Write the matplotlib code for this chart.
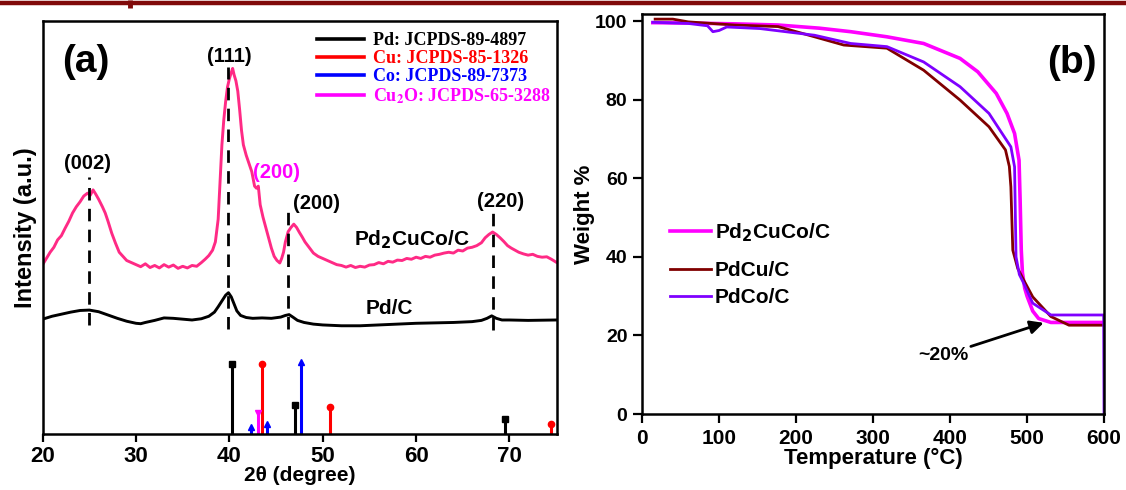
import matplotlib
matplotlib.use("Agg")
import matplotlib.pyplot as plt
from matplotlib.font_manager import FontProperties
from matplotlib.lines import Line2D

# ---------------- XRD data (2theta in degrees, intensity in a.u.) ----------------
pdcuco_2theta = [20.0, 20.4, 20.8, 21.2, 21.6, 22.0, 22.4, 22.8, 23.2, 23.6, 24.0, 24.4, 24.8, 25.1,
                 25.4, 25.7, 26.0, 26.4, 26.7, 27.0, 27.4, 27.8, 28.2, 28.6, 29.0, 29.5, 30.0, 30.5,
                 31.0, 31.5, 32.0, 32.5, 33.0, 33.5, 34.0, 34.5, 35.0, 35.5, 36.0, 36.5, 37.0, 37.4,
                 37.8, 38.2, 38.5, 38.8, 39.0, 39.2, 39.4, 39.6, 39.8, 40.0, 40.2, 40.35, 40.5, 40.7,
                 40.9, 41.1, 41.3, 41.5, 41.8, 42.1, 42.4, 42.7, 42.9, 43.1, 43.3, 43.6, 43.9, 44.2,
                 44.5, 44.8, 45.1, 45.4, 45.6, 45.8, 46.0, 46.3, 46.6, 46.9, 47.2, 47.5, 47.8, 48.1,
                 48.5, 49.0, 49.5, 50.0, 50.5, 51.0, 51.5, 52.0, 52.5, 53.0, 53.5, 54.0, 54.5, 55.0,
                 55.5, 56.0, 56.5, 57.0, 57.5, 58.0, 58.5, 59.0, 59.5, 60.0, 60.5, 61.0, 61.5, 62.0,
                 62.5, 63.0, 63.5, 64.0, 64.5, 65.0, 65.5, 66.0, 66.5, 67.0, 67.4, 67.8, 68.2, 68.6,
                 69.0, 69.4, 69.8, 70.2, 70.6, 71.0, 71.5, 72.0, 72.5, 73.0, 73.5, 74.0, 74.5, 75.0]
pdcuco_int = [41.0, 42.5, 44.0, 45.2, 47.0, 48.0, 49.8, 51.5, 53.5, 55.0, 56.2, 57.6, 58.3, 57.8,
              59.1, 58.0, 56.8, 55.0, 53.5, 51.5, 48.6, 46.2, 44.0, 43.0, 42.0, 41.5, 41.0, 40.5,
              41.2, 40.3, 40.8, 40.2, 41.0, 40.4, 40.9, 40.1, 40.6, 40.2, 40.8, 40.6, 41.5, 42.3,
              43.2, 44.5, 46.5, 52.0, 61.0, 70.0, 76.0, 80.5, 84.0, 86.0, 87.5, 88.5, 87.0, 85.5,
              83.0, 78.5, 73.5, 70.0, 67.5, 65.5, 63.5, 60.0, 59.5, 60.0, 55.5, 52.5, 50.0, 47.5,
              45.0, 43.0, 42.0, 41.4, 42.5, 44.0, 46.5, 49.0, 50.0, 50.8, 50.0, 48.8, 47.7, 46.5,
              45.3, 43.8, 43.0, 42.5, 42.0, 41.5, 41.0, 40.8, 40.4, 40.8, 40.3, 40.6, 40.4, 40.9,
              41.0, 41.5, 41.2, 41.8, 41.6, 42.1, 42.0, 42.5, 42.3, 42.8, 42.5, 43.0, 42.8, 43.3,
              43.5, 43.8, 44.0, 43.8, 44.5, 44.3, 45.0, 45.2, 45.6, 46.3, 47.5, 48.3, 48.9, 48.3,
              47.5, 46.6, 45.6, 45.0, 44.5, 44.0, 43.6, 43.3, 43.5, 43.0, 42.8, 42.9, 42.3, 41.6]

pdc_2theta = [20.0, 21.0, 22.0, 23.0, 24.0, 25.0, 26.0, 27.0, 28.0, 29.0, 30.0, 30.5, 31.0, 32.0,
              33.0, 34.0, 35.0, 36.0, 37.0, 37.8, 38.4, 38.8, 39.2, 39.6, 39.9, 40.2, 40.5, 40.8,
              41.2, 41.8, 42.5, 43.5, 44.5, 45.5, 46.0, 46.4, 46.8, 47.3, 48.0, 49.0, 50.0, 52.0,
              54.0, 56.0, 58.0, 60.0, 62.0, 64.0, 66.0, 67.0, 67.6, 68.1, 68.6, 69.2, 70.0, 72.0, 75.0]
pdc_int = [27.8, 28.5, 29.0, 29.5, 29.9, 30.0, 29.6, 28.8, 28.0, 27.3, 26.8, 26.7, 27.0, 27.5,
           28.1, 28.0, 27.8, 27.6, 27.9, 28.5, 29.5, 30.8, 32.2, 33.6, 34.2, 33.2, 31.5, 29.8,
           28.7, 28.2, 28.0, 28.1, 28.0, 28.3, 28.7, 28.9, 28.3, 27.5, 27.0, 26.6, 26.4, 26.2,
           26.2, 26.4, 26.6, 26.8, 26.9, 27.0, 27.2, 27.5, 28.0, 28.6, 28.0, 27.6, 27.6, 27.5, 27.6]

# Reference patterns (peak position, relative intensity)
pd_ref_pos = [40.3, 47.07, 69.55]
pd_ref_int = [17.0, 7.0, 3.6]
cu_ref_pos = [43.5, 50.76, 74.5]
cu_ref_int = [17.0, 6.6, 2.4]
co_ref_pos = [42.3, 44.0, 47.7]
co_ref_int = [1.8, 2.5, 17.5]
cu2o_ref_pos = [43.05]
cu2o_ref_int = [5.0]

# Guide lines marking the Pd reflections (position, top, bottom)
guide_pos = [25.0, 39.9, 46.3, 68.2]
guide_top = [62.2, 88.9, 54.7, 53.8]
guide_bottom = [26.5, 25.5, 25.5, 25.2]

# ---------------- TGA data (temperature in C, weight %) ----------------
pdcuco_T = [14, 60, 120, 176.6, 230, 271, 318, 365.7, 413, 436, 460, 474, 483.8, 489.6, 491,
            492.5, 494, 497, 500, 507.4, 515, 531, 560, 600]
pdcuco_W = [99.6, 99.5, 99.3, 99.0, 98.2, 97.3, 96.0, 94.3, 90.5, 87.1, 81.6, 76.5, 71.4, 64.6,
            54.5, 41.7, 36.0, 32.0, 30.0, 26.2, 24.3, 23.3, 23.3, 23.3]

pdcu_T = [17, 40, 60, 120, 176.6, 224, 262, 318, 365.7, 413, 450.6, 472, 477, 479, 481.5, 488,
          495.6, 507.4, 531, 554.5, 580, 600]
pdcu_W = [100.5, 100.5, 99.8, 99.0, 98.6, 96.0, 93.9, 93.1, 87.5, 79.9, 73.1, 67.2, 63.0, 57.8,
          41.7, 37.0, 34.1, 29.8, 24.8, 22.6, 22.6, 22.6]

pdco_T = [14, 60, 85, 92, 100, 110, 153, 224, 271, 318, 365.7, 413, 450.6, 479, 483.8, 485.7,
          490, 495.6, 507.4, 531, 560, 599.5, 600]
pdco_W = [99.7, 99.4, 98.8, 97.3, 97.6, 98.5, 98.1, 96.4, 94.3, 93.5, 89.6, 83.3, 76.5, 68.0,
          62.9, 40.0, 35.5, 33.3, 28.2, 25.2, 25.2, 25.2, 0.0]

# ---------------- figure ----------------
plt.rcParams['font.family'] = ['Liberation Sans', 'DejaVu Sans']
plt.rcParams['font.weight'] = 'bold'
plt.rcParams['axes.labelweight'] = 'bold'
plt.rcParams['axes.linewidth'] = 1.8

fig = plt.figure(figsize=(11.26, 4.90), dpi=100)

# page rule across the top
fig.add_artist(Line2D([0, 1], [0.9939, 0.9939], transform=fig.transFigure,
                      color='#800a0a', lw=3.2, solid_capstyle='butt'))
fig.add_artist(Line2D([130 / 1126, 130 / 1126], [1.0, 0.984], transform=fig.transFigure,
                      color='#800a0a', lw=3.5, solid_capstyle='butt'))

# ---------- panel (a): XRD ----------
axa = fig.add_axes([0.0379, 0.1143, 0.4568, 0.8430])
axa.set_xlim(20, 75.1)
axa.set_ylim(0, 100)

axa.plot(pdcuco_2theta, pdcuco_int, color='#ff2a85', lw=2.1)
axa.plot(pdc_2theta, pdc_int, color='black', lw=2.1)

axa.vlines(guide_pos, guide_bottom, guide_top, colors='black', lw=2.0,
           linestyles=(0, (4.5, 3.0)))

ref_sets = [
    (pd_ref_pos, pd_ref_int, 'black', 's', 'Pd: JCPDS-89-4897'),
    (cu_ref_pos, cu_ref_int, '#ff0000', 'o', 'Cu: JCPDS-85-1326'),
    (co_ref_pos, co_ref_int, '#0000ff', '^', 'Co: JCPDS-89-7373'),
    (cu2o_ref_pos, cu2o_ref_int, '#ff00ff', 'v', r'Cu$_\mathbf{2}$O: JCPDS-65-3288'),
]
handles, labels, colors = [], [], []
for pos, inten, col, mk, lab in ref_sets:
    axa.vlines(pos, 0, inten, colors=col, lw=2.2)
    axa.plot(pos, inten, ls='none', marker=mk, ms=4.5, color=col, clip_on=False)
    handles.append(Line2D([], [], color=col, lw=2.6))
    labels.append(lab)
    colors.append(col)

serif_bold = FontProperties(family='Liberation Serif', weight='bold', size=13,
                            math_fontfamily='stix')
axa.legend(handles, labels, loc='upper left', bbox_to_anchor=(0.533, 0.972),
           frameon=False, prop=serif_bold, labelcolor=colors, labelspacing=0.05,
           handlelength=2.6, handletextpad=0.5, borderpad=0, borderaxespad=0)

hkl_kw = dict(ha='center', va='center', fontsize=14.5, fontweight='bold')
axa.text(24.75, 65.6, '(002)', **hkl_kw)
axa.text(40.0, 91.3, '(111)', **hkl_kw)
axa.text(45.0, 63.4, '(200)', color='#ff00ff', **hkl_kw)
axa.text(49.3, 55.9, '(200)', **hkl_kw)
axa.text(69.0, 56.2, '(220)', **hkl_kw)
axa.text(59.5, 47.0, r'Pd$_\mathbf{2}$CuCo/C', ha='center', va='center', fontsize=15)
axa.text(57.1, 30.5, 'Pd/C', ha='center', va='center', fontsize=15)
axa.text(24.6, 90.0, '(a)', ha='center', va='center', fontsize=28)

axa.set_xticks([20, 30, 40, 50, 60, 70])
axa.set_yticks([])
axa.tick_params(axis='x', direction='out', length=6, width=1.6, labelsize=16, pad=3)
axa.set_xlabel('2\u03b8 (degree)', fontsize=15, va='top')
axa.xaxis.set_label_coords(0.5, -0.078)
axa.set_ylabel('Intensity (a.u.)', fontsize=17, labelpad=4)

# ---------- panel (b): TGA ----------
axb = fig.add_axes([0.5702, 0.1551, 0.4103, 0.8163])
axb.set_xlim(0, 600)
axb.set_ylim(0, 101.8)

l1, = axb.plot(pdcuco_T, pdcuco_W, color='#ff00ff', lw=2.6, label=r'Pd$_\mathbf{2}$CuCo/C')
l2, = axb.plot(pdcu_T, pdcu_W, color='#800000', lw=2.0, label='PdCu/C')
l3, = axb.plot(pdco_T, pdco_W, color='#7f00ff', lw=2.0, label='PdCo/C')

leg_kw = dict(frameon=False, fontsize=15, handlelength=2.0, handletextpad=0.15,
              borderpad=0, borderaxespad=0)
leg1 = axb.legend(handles=[l1], loc='center left', bbox_to_anchor=(0.06, 0.4525), **leg_kw)
axb.add_artist(leg1)
axb.legend(handles=[l2, l3], loc='center left', bbox_to_anchor=(0.06, 0.325),
           labelspacing=0.4, **leg_kw)

axb.text(391, 15.0, '~20%', ha='center', va='center', fontsize=14, fontweight='bold')
axb.annotate('', xy=(521.6, 23.2), xytext=(427, 17.2),
             arrowprops=dict(arrowstyle='-|>', color='black', lw=2.0,
                             mutation_scale=20, shrinkA=0, shrinkB=0))
axb.text(558, 89.3, '(b)', ha='center', va='center', fontsize=28)

axb.set_xticks([0, 100, 200, 300, 400, 500, 600])
axb.set_yticks([0, 20, 40, 60, 80, 100])
axb.tick_params(axis='both', direction='out', length=6.5, width=1.6, pad=4)
axb.tick_params(axis='x', labelsize=15)
axb.tick_params(axis='y', labelsize=14)
axb.set_xlabel('Temperature (\u00b0C)', fontsize=16, labelpad=0)
axb.set_ylabel('Weight %', fontsize=16, labelpad=0)

fig.savefig('out.png', dpi=100)
